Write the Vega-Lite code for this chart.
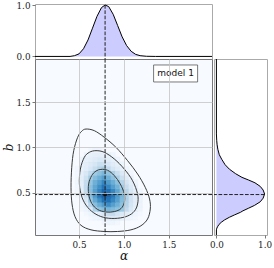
{
  "$schema": "https://vega.github.io/schema/vega-lite/v6.json",
  "padding": {"left": 1, "top": 0, "right": 2, "bottom": 2},
  "background": "white",
  "config": {
    "axis": {"domain": false, "grid": false},
    "legend": {"disable": true}
  },
  "datasets": {
    "best": [{"a": 0.79, "b": 0.48, "peak": 1.0}],
    "topm": [
      {"a": 0.01, "v": 0}, {"a": 0.40, "v": 0}, {"a": 0.45, "v": 0.015}, {"a": 0.50, "v": 0.05},
      {"a": 0.55, "v": 0.15}, {"a": 0.60, "v": 0.32}, {"a": 0.65, "v": 0.55}, {"a": 0.70, "v": 0.78},
      {"a": 0.75, "v": 0.95}, {"a": 0.79, "v": 1.0}, {"a": 0.83, "v": 0.97}, {"a": 0.88, "v": 0.82},
      {"a": 0.93, "v": 0.60}, {"a": 0.98, "v": 0.38}, {"a": 1.03, "v": 0.21}, {"a": 1.08, "v": 0.10},
      {"a": 1.13, "v": 0.04}, {"a": 1.18, "v": 0.015}, {"a": 1.25, "v": 0.003}, {"a": 1.35, "v": 0},
      {"a": 1.98, "v": 0}
    ],
    "rightm": [
      {"b": 0.033, "v": 0}, {"b": 0.09, "v": 0}, {"b": 0.11, "v": 0.01}, {"b": 0.13, "v": 0.03},
      {"b": 0.15, "v": 0.055}, {"b": 0.173, "v": 0.10}, {"b": 0.20, "v": 0.17}, {"b": 0.229, "v": 0.27},
      {"b": 0.256, "v": 0.38}, {"b": 0.284, "v": 0.50}, {"b": 0.30, "v": 0.55}, {"b": 0.33, "v": 0.67},
      {"b": 0.36, "v": 0.79}, {"b": 0.40, "v": 0.91}, {"b": 0.44, "v": 0.97}, {"b": 0.486, "v": 1.0},
      {"b": 0.53, "v": 0.97}, {"b": 0.57, "v": 0.91}, {"b": 0.61, "v": 0.80}, {"b": 0.64, "v": 0.67},
      {"b": 0.67, "v": 0.53}, {"b": 0.71, "v": 0.40}, {"b": 0.76, "v": 0.27}, {"b": 0.81, "v": 0.18},
      {"b": 0.87, "v": 0.11}, {"b": 0.92, "v": 0.06}, {"b": 0.98, "v": 0.03}, {"b": 1.03, "v": 0.015},
      {"b": 1.08, "v": 0.006}, {"b": 1.15, "v": 0}, {"b": 1.978, "v": 0}
    ],
    "contours": [
      {"c": "outer", "i": 0, "a": 0.578, "b": 1.204}, {"c": "outer", "i": 1, "a": 0.670, "b": 1.186},
      {"c": "outer", "i": 2, "a": 0.781, "b": 1.113}, {"c": "outer", "i": 3, "a": 0.911, "b": 1.002},
      {"c": "outer", "i": 4, "a": 1.041, "b": 0.854}, {"c": "outer", "i": 5, "a": 1.152, "b": 0.707},
      {"c": "outer", "i": 6, "a": 1.237, "b": 0.560}, {"c": "outer", "i": 7, "a": 1.285, "b": 0.431},
      {"c": "outer", "i": 8, "a": 1.293, "b": 0.320}, {"c": "outer", "i": 9, "a": 1.263, "b": 0.210},
      {"c": "outer", "i": 10, "a": 1.189, "b": 0.135}, {"c": "outer", "i": 11, "a": 1.078, "b": 0.090},
      {"c": "outer", "i": 12, "a": 0.930, "b": 0.072}, {"c": "outer", "i": 13, "a": 0.781, "b": 0.072},
      {"c": "outer", "i": 14, "a": 0.633, "b": 0.090}, {"c": "outer", "i": 15, "a": 0.522, "b": 0.140},
      {"c": "outer", "i": 16, "a": 0.456, "b": 0.235}, {"c": "outer", "i": 17, "a": 0.422, "b": 0.376},
      {"c": "outer", "i": 18, "a": 0.411, "b": 0.560}, {"c": "outer", "i": 19, "a": 0.419, "b": 0.781},
      {"c": "outer", "i": 20, "a": 0.441, "b": 0.965}, {"c": "outer", "i": 21, "a": 0.485, "b": 1.113},
      {"c": "outer", "i": 22, "a": 0.530, "b": 1.180},
      {"c": "middle", "i": 0, "a": 0.689, "b": 0.965}, {"c": "middle", "i": 1, "a": 0.781, "b": 0.947},
      {"c": "middle", "i": 2, "a": 0.893, "b": 0.873}, {"c": "middle", "i": 3, "a": 1.004, "b": 0.762},
      {"c": "middle", "i": 4, "a": 1.096, "b": 0.633}, {"c": "middle", "i": 5, "a": 1.152, "b": 0.486},
      {"c": "middle", "i": 6, "a": 1.152, "b": 0.376}, {"c": "middle", "i": 7, "a": 1.115, "b": 0.295},
      {"c": "middle", "i": 8, "a": 1.041, "b": 0.243}, {"c": "middle", "i": 9, "a": 0.930, "b": 0.218},
      {"c": "middle", "i": 10, "a": 0.800, "b": 0.222}, {"c": "middle", "i": 11, "a": 0.689, "b": 0.262},
      {"c": "middle", "i": 12, "a": 0.596, "b": 0.339}, {"c": "middle", "i": 13, "a": 0.533, "b": 0.450},
      {"c": "middle", "i": 14, "a": 0.504, "b": 0.597}, {"c": "middle", "i": 15, "a": 0.515, "b": 0.762},
      {"c": "middle", "i": 16, "a": 0.559, "b": 0.892}, {"c": "middle", "i": 17, "a": 0.615, "b": 0.947},
      {"c": "inner", "i": 0, "a": 0.744, "b": 0.758}, {"c": "inner", "i": 1, "a": 0.819, "b": 0.748},
      {"c": "inner", "i": 2, "a": 0.893, "b": 0.689}, {"c": "inner", "i": 3, "a": 0.959, "b": 0.597},
      {"c": "inner", "i": 4, "a": 1.004, "b": 0.486}, {"c": "inner", "i": 5, "a": 1.004, "b": 0.394},
      {"c": "inner", "i": 6, "a": 0.967, "b": 0.325}, {"c": "inner", "i": 7, "a": 0.893, "b": 0.292},
      {"c": "inner", "i": 8, "a": 0.800, "b": 0.287}, {"c": "inner", "i": 9, "a": 0.707, "b": 0.315},
      {"c": "inner", "i": 10, "a": 0.641, "b": 0.383}, {"c": "inner", "i": 11, "a": 0.607, "b": 0.486},
      {"c": "inner", "i": 12, "a": 0.607, "b": 0.597}, {"c": "inner", "i": 13, "a": 0.641, "b": 0.689},
      {"c": "inner", "i": 14, "a": 0.689, "b": 0.740}
    ],
    "heat": [
      {"a": 0.775, "b": 0.175, "d": 0.05}, {"a": 0.825, "b": 0.175, "d": 0.075}, {"a": 0.875, "b": 0.175, "d": 0.075}, {"a": 0.925, "b": 0.175, "d": 0.055},
      {"a": 0.625, "b": 0.225, "d": 0.047}, {"a": 0.675, "b": 0.225, "d": 0.07}, {"a": 0.725, "b": 0.225, "d": 0.10}, {"a": 0.775, "b": 0.225, "d": 0.135}, {"a": 0.825, "b": 0.225, "d": 0.16}, {"a": 0.875, "b": 0.225, "d": 0.19}, {"a": 0.925, "b": 0.225, "d": 0.16}, {"a": 0.975, "b": 0.225, "d": 0.135}, {"a": 1.025, "b": 0.225, "d": 0.097}, {"a": 1.075, "b": 0.225, "d": 0.065}, {"a": 1.125, "b": 0.225, "d": 0.043},
      {"a": 0.575, "b": 0.275, "d": 0.052}, {"a": 0.625, "b": 0.275, "d": 0.087}, {"a": 0.675, "b": 0.275, "d": 0.135}, {"a": 0.725, "b": 0.275, "d": 0.20}, {"a": 0.775, "b": 0.275, "d": 0.28}, {"a": 0.825, "b": 0.275, "d": 0.386}, {"a": 0.875, "b": 0.275, "d": 0.40}, {"a": 0.925, "b": 0.275, "d": 0.32}, {"a": 0.975, "b": 0.275, "d": 0.25}, {"a": 1.025, "b": 0.275, "d": 0.19}, {"a": 1.075, "b": 0.275, "d": 0.14}, {"a": 1.125, "b": 0.275, "d": 0.083}, {"a": 1.175, "b": 0.275, "d": 0.047},
      {"a": 0.525, "b": 0.325, "d": 0.05}, {"a": 0.575, "b": 0.325, "d": 0.10}, {"a": 0.625, "b": 0.325, "d": 0.23}, {"a": 0.675, "b": 0.325, "d": 0.51}, {"a": 0.725, "b": 0.325, "d": 0.63}, {"a": 0.775, "b": 0.325, "d": 0.66}, {"a": 0.825, "b": 0.325, "d": 0.69}, {"a": 0.875, "b": 0.325, "d": 0.67}, {"a": 0.925, "b": 0.325, "d": 0.64}, {"a": 0.975, "b": 0.325, "d": 0.61}, {"a": 1.025, "b": 0.325, "d": 0.42}, {"a": 1.075, "b": 0.325, "d": 0.26}, {"a": 1.125, "b": 0.325, "d": 0.15}, {"a": 1.175, "b": 0.325, "d": 0.076},
      {"a": 0.525, "b": 0.375, "d": 0.07}, {"a": 0.575, "b": 0.375, "d": 0.15}, {"a": 0.625, "b": 0.375, "d": 0.45}, {"a": 0.675, "b": 0.375, "d": 0.65}, {"a": 0.725, "b": 0.375, "d": 0.73}, {"a": 0.775, "b": 0.375, "d": 0.80}, {"a": 0.825, "b": 0.375, "d": 0.855}, {"a": 0.875, "b": 0.375, "d": 0.78}, {"a": 0.925, "b": 0.375, "d": 0.71}, {"a": 0.975, "b": 0.375, "d": 0.64}, {"a": 1.025, "b": 0.375, "d": 0.49}, {"a": 1.075, "b": 0.375, "d": 0.31}, {"a": 1.125, "b": 0.375, "d": 0.18}, {"a": 1.175, "b": 0.375, "d": 0.089},
      {"a": 0.525, "b": 0.425, "d": 0.097}, {"a": 0.575, "b": 0.425, "d": 0.27}, {"a": 0.625, "b": 0.425, "d": 0.61}, {"a": 0.675, "b": 0.425, "d": 0.74}, {"a": 0.725, "b": 0.425, "d": 0.85}, {"a": 0.775, "b": 0.425, "d": 0.94}, {"a": 0.825, "b": 0.425, "d": 0.94}, {"a": 0.875, "b": 0.425, "d": 0.87}, {"a": 0.925, "b": 0.425, "d": 0.78}, {"a": 0.975, "b": 0.425, "d": 0.67}, {"a": 1.025, "b": 0.425, "d": 0.52}, {"a": 1.075, "b": 0.425, "d": 0.33}, {"a": 1.125, "b": 0.425, "d": 0.19}, {"a": 1.175, "b": 0.425, "d": 0.093},
      {"a": 0.475, "b": 0.475, "d": 0.048}, {"a": 0.525, "b": 0.475, "d": 0.13}, {"a": 0.575, "b": 0.475, "d": 0.36}, {"a": 0.625, "b": 0.475, "d": 0.65}, {"a": 0.675, "b": 0.475, "d": 0.81}, {"a": 0.725, "b": 0.475, "d": 0.93}, {"a": 0.775, "b": 0.475, "d": 0.995}, {"a": 0.825, "b": 0.475, "d": 0.98}, {"a": 0.875, "b": 0.475, "d": 0.92}, {"a": 0.925, "b": 0.475, "d": 0.81}, {"a": 0.975, "b": 0.475, "d": 0.69}, {"a": 1.025, "b": 0.475, "d": 0.52}, {"a": 1.075, "b": 0.475, "d": 0.33}, {"a": 1.125, "b": 0.475, "d": 0.19}, {"a": 1.175, "b": 0.475, "d": 0.087},
      {"a": 0.475, "b": 0.525, "d": 0.057}, {"a": 0.525, "b": 0.525, "d": 0.17}, {"a": 0.575, "b": 0.525, "d": 0.41}, {"a": 0.625, "b": 0.525, "d": 0.65}, {"a": 0.675, "b": 0.525, "d": 0.78}, {"a": 0.725, "b": 0.525, "d": 0.89}, {"a": 0.775, "b": 0.525, "d": 0.97}, {"a": 0.825, "b": 0.525, "d": 0.95}, {"a": 0.875, "b": 0.525, "d": 0.87}, {"a": 0.925, "b": 0.525, "d": 0.76}, {"a": 0.975, "b": 0.525, "d": 0.64}, {"a": 1.025, "b": 0.525, "d": 0.47}, {"a": 1.075, "b": 0.525, "d": 0.29}, {"a": 1.125, "b": 0.525, "d": 0.16}, {"a": 1.175, "b": 0.525, "d": 0.066},
      {"a": 0.475, "b": 0.575, "d": 0.065}, {"a": 0.525, "b": 0.575, "d": 0.19}, {"a": 0.575, "b": 0.575, "d": 0.42}, {"a": 0.625, "b": 0.575, "d": 0.65}, {"a": 0.675, "b": 0.575, "d": 0.75}, {"a": 0.725, "b": 0.575, "d": 0.85}, {"a": 0.775, "b": 0.575, "d": 0.93}, {"a": 0.825, "b": 0.575, "d": 0.88}, {"a": 0.875, "b": 0.575, "d": 0.79}, {"a": 0.925, "b": 0.575, "d": 0.70}, {"a": 0.975, "b": 0.575, "d": 0.59}, {"a": 1.025, "b": 0.575, "d": 0.39}, {"a": 1.075, "b": 0.575, "d": 0.24}, {"a": 1.125, "b": 0.575, "d": 0.12},
      {"a": 0.475, "b": 0.625, "d": 0.068}, {"a": 0.525, "b": 0.625, "d": 0.19}, {"a": 0.575, "b": 0.625, "d": 0.40}, {"a": 0.625, "b": 0.625, "d": 0.62}, {"a": 0.675, "b": 0.625, "d": 0.71}, {"a": 0.725, "b": 0.625, "d": 0.79}, {"a": 0.775, "b": 0.625, "d": 0.87}, {"a": 0.825, "b": 0.625, "d": 0.80}, {"a": 0.875, "b": 0.625, "d": 0.72}, {"a": 0.925, "b": 0.625, "d": 0.64}, {"a": 0.975, "b": 0.625, "d": 0.48}, {"a": 1.025, "b": 0.625, "d": 0.31}, {"a": 1.075, "b": 0.625, "d": 0.18}, {"a": 1.125, "b": 0.625, "d": 0.078},
      {"a": 0.475, "b": 0.675, "d": 0.065}, {"a": 0.525, "b": 0.675, "d": 0.18}, {"a": 0.575, "b": 0.675, "d": 0.34}, {"a": 0.625, "b": 0.675, "d": 0.56}, {"a": 0.675, "b": 0.675, "d": 0.66}, {"a": 0.725, "b": 0.675, "d": 0.72}, {"a": 0.775, "b": 0.675, "d": 0.78}, {"a": 0.825, "b": 0.675, "d": 0.71}, {"a": 0.875, "b": 0.675, "d": 0.64}, {"a": 0.925, "b": 0.675, "d": 0.53}, {"a": 0.975, "b": 0.675, "d": 0.36}, {"a": 1.025, "b": 0.675, "d": 0.22}, {"a": 1.075, "b": 0.675, "d": 0.12},
      {"a": 0.475, "b": 0.725, "d": 0.059}, {"a": 0.525, "b": 0.725, "d": 0.16}, {"a": 0.575, "b": 0.725, "d": 0.27}, {"a": 0.625, "b": 0.725, "d": 0.42}, {"a": 0.675, "b": 0.725, "d": 0.59}, {"a": 0.725, "b": 0.725, "d": 0.64}, {"a": 0.775, "b": 0.725, "d": 0.68}, {"a": 0.825, "b": 0.725, "d": 0.63}, {"a": 0.875, "b": 0.725, "d": 0.54}, {"a": 0.925, "b": 0.725, "d": 0.38}, {"a": 0.975, "b": 0.725, "d": 0.24}, {"a": 1.025, "b": 0.725, "d": 0.14}, {"a": 1.075, "b": 0.725, "d": 0.055},
      {"a": 0.475, "b": 0.775, "d": 0.051}, {"a": 0.525, "b": 0.775, "d": 0.14}, {"a": 0.575, "b": 0.775, "d": 0.20}, {"a": 0.625, "b": 0.775, "d": 0.28}, {"a": 0.675, "b": 0.775, "d": 0.38}, {"a": 0.725, "b": 0.775, "d": 0.48}, {"a": 0.775, "b": 0.775, "d": 0.55}, {"a": 0.825, "b": 0.775, "d": 0.41}, {"a": 0.875, "b": 0.775, "d": 0.30}, {"a": 0.925, "b": 0.775, "d": 0.22}, {"a": 0.975, "b": 0.775, "d": 0.15}, {"a": 1.025, "b": 0.775, "d": 0.073},
      {"a": 0.525, "b": 0.825, "d": 0.13}, {"a": 0.575, "b": 0.825, "d": 0.18}, {"a": 0.625, "b": 0.825, "d": 0.23}, {"a": 0.675, "b": 0.825, "d": 0.30}, {"a": 0.725, "b": 0.825, "d": 0.37}, {"a": 0.775, "b": 0.825, "d": 0.36}, {"a": 0.825, "b": 0.825, "d": 0.28}, {"a": 0.875, "b": 0.825, "d": 0.21}, {"a": 0.925, "b": 0.825, "d": 0.155}, {"a": 0.975, "b": 0.825, "d": 0.087},
      {"a": 0.525, "b": 0.875, "d": 0.087}, {"a": 0.575, "b": 0.875, "d": 0.15}, {"a": 0.625, "b": 0.875, "d": 0.18}, {"a": 0.675, "b": 0.875, "d": 0.22}, {"a": 0.725, "b": 0.875, "d": 0.26}, {"a": 0.775, "b": 0.875, "d": 0.24}, {"a": 0.825, "b": 0.875, "d": 0.19}, {"a": 0.875, "b": 0.875, "d": 0.15}, {"a": 0.925, "b": 0.875, "d": 0.09},
      {"a": 0.575, "b": 0.925, "d": 0.11}, {"a": 0.625, "b": 0.925, "d": 0.14}, {"a": 0.675, "b": 0.925, "d": 0.16}, {"a": 0.725, "b": 0.925, "d": 0.17}, {"a": 0.775, "b": 0.925, "d": 0.15}, {"a": 0.825, "b": 0.925, "d": 0.14}, {"a": 0.875, "b": 0.925, "d": 0.077},
      {"a": 0.625, "b": 0.975, "d": 0.052}, {"a": 0.675, "b": 0.975, "d": 0.09}, {"a": 0.725, "b": 0.975, "d": 0.09}, {"a": 0.775, "b": 0.975, "d": 0.048}
    ]
  },
  "spacing": 0,
  "bounds": "flush",
  "vconcat": [
    {
      "width": 177, "height": 55,
      "view": {"stroke": "#aaaaaa", "fill": "white"},
      "layer": [
        {
          "data": {"name": "topm"},
          "mark": {"type": "area", "color": "#ccccff", "opacity": 1, "clip": true, "line": {"color": "black", "strokeWidth": 1}},
          "encoding": {
            "x": {"field": "a", "type": "quantitative", "scale": {"domain": [0.01, 1.98], "nice": false, "zero": false}, "axis": null},
            "y": {"field": "v", "type": "quantitative", "stack": null, "scale": {"domain": [-0.05, 1.02], "nice": false, "zero": false},
                  "axis": {"values": [0, 0.5, 1], "format": ".1f", "title": null,
                           "labelFont": "DejaVu Serif", "labelFontSize": 8.8, "labelColor": "#222",
                           "tickColor": "#555", "tickSize": 3, "tickWidth": 0.8, "labelPadding": 2, "labelFlush": false}}
          }
        },
        {
          "data": {"name": "best"},
          "mark": {"type": "rule", "strokeDash": [3.7, 1.6], "color": "#222", "strokeWidth": 1},
          "encoding": {
            "x": {"field": "a", "type": "quantitative"},
            "y": {"field": "peak", "type": "quantitative"},
            "y2": {"datum": -0.05}
          }
        }
      ]
    },
    {
      "spacing": 2,
      "bounds": "flush",
      "hconcat": [
        {
          "width": 177, "height": 176,
          "view": {"stroke": "#777777", "fill": "#f7fbff"},
          "layer": [
            {
              "data": {"name": "heat"},
              "mark": {"type": "rect", "strokeWidth": 0.6},
              "encoding": {
                "x": {"field": "a", "type": "quantitative", "bin": {"step": 0.05, "extent": [0, 2]},
                      "scale": {"domain": [0.01, 1.98], "nice": false, "zero": false},
                      "axis": {"values": [0.5, 1, 1.5], "format": ".1f", "title": "α", "grid": true, "gridColor": "#c4c4c4", "gridWidth": 0.8,
                               "labelFont": "DejaVu Serif", "labelFontSize": 8.8, "labelColor": "#222",
                               "tickColor": "#555", "tickSize": 3, "tickWidth": 0.8, "labelPadding": 2, "labelFlush": false,
                               "titleFont": "DejaVu Serif", "titleFontStyle": "italic", "titleFontWeight": "normal", "titleFontSize": 12, "titleColor": "#111", "titlePadding": 2}},
                "y": {"field": "b", "type": "quantitative", "bin": {"step": 0.05, "extent": [0, 2]},
                      "scale": {"domain": [0.033, 1.978], "nice": false, "zero": false},
                      "axis": {"values": [0.5, 1, 1.5], "format": ".1f", "title": "b", "grid": true, "gridColor": "#c4c4c4", "gridWidth": 0.8,
                               "labelFont": "DejaVu Serif", "labelFontSize": 8.8, "labelColor": "#222",
                               "tickColor": "#555", "tickSize": 3, "tickWidth": 0.8, "labelPadding": 2, "labelFlush": false,
                               "titleFont": "DejaVu Serif", "titleFontStyle": "italic", "titleFontWeight": "normal", "titleFontSize": 12, "titleColor": "#111", "titlePadding": 1}},
                "fill": {"field": "d", "type": "quantitative",
                         "scale": {"domain": [0, 0.15, 0.3, 0.45, 0.6, 0.72, 0.84, 0.94, 1.0],
                                   "range": ["#f7fbff", "#e6f0fa", "#d6e6f4", "#bcd7eb", "#9ecae1", "#6baed6", "#4292c6", "#2171b5", "#175ea8"]},
                         "legend": null},
                "stroke": {"field": "d", "type": "quantitative",
                         "scale": {"domain": [0, 0.15, 0.3, 0.45, 0.6, 0.72, 0.84, 0.94, 1.0],
                                   "range": ["#f7fbff", "#e6f0fa", "#d6e6f4", "#bcd7eb", "#9ecae1", "#6baed6", "#4292c6", "#2171b5", "#175ea8"]},
                         "legend": null}
              }
            },
            {
              "data": {"name": "contours"},
              "mark": {"type": "line", "interpolate": "cardinal-closed", "color": "#3a3a3a", "strokeWidth": 1},
              "encoding": {
                "x": {"field": "a", "type": "quantitative"},
                "y": {"field": "b", "type": "quantitative"},
                "detail": {"field": "c"},
                "order": {"field": "i", "type": "quantitative"}
              }
            },
            {
              "data": {"name": "best"},
              "mark": {"type": "rule", "strokeDash": [3.7, 1.6], "color": "#222", "strokeWidth": 1},
              "encoding": {"x": {"field": "a", "type": "quantitative"}}
            },
            {
              "data": {"name": "best"},
              "mark": {"type": "rule", "strokeDash": [3.7, 1.6], "color": "#222", "strokeWidth": 1},
              "encoding": {"y": {"field": "b", "type": "quantitative"}}
            },
            {
              "data": {"name": "best"},
              "mark": {"type": "point", "filled": true, "color": "#111", "size": 16, "opacity": 1},
              "encoding": {"x": {"field": "a", "type": "quantitative"}, "y": {"field": "b", "type": "quantitative"}}
            },
            {
              "data": {"values": [{"label": "model 1"}]},
              "mark": {"type": "rect", "fill": "white", "stroke": "#555", "strokeWidth": 0.8},
              "encoding": {
                "x": {"datum": 1.33}, "x2": {"datum": 1.82},
                "y": {"datum": 1.724}, "y2": {"datum": 1.912}
              }
            },
            {
              "data": {"values": [{"label": "model 1"}]},
              "mark": {"type": "text", "font": "DejaVu Sans", "fontSize": 9, "color": "#111", "align": "center", "baseline": "middle"},
              "encoding": {
                "x": {"datum": 1.575}, "y": {"datum": 1.818},
                "text": {"field": "label"}
              }
            }
          ]
        },
        {
          "width": 53, "height": 176,
          "view": {"stroke": "#aaaaaa", "fill": "white"},
          "layer": [
            {
              "data": {"name": "rightm"},
              "mark": {"type": "line", "stroke": "black", "fill": "#ccccff", "strokeWidth": 1, "clip": true},
              "encoding": {
                "x": {"field": "v", "type": "quantitative", "scale": {"domain": [-0.05, 1.05], "nice": false, "zero": false},
                      "axis": {"values": [0, 0.5, 1], "format": ".1f", "title": null,
                               "labelFont": "DejaVu Serif", "labelFontSize": 8.8, "labelColor": "#222",
                               "tickColor": "#555", "tickSize": 3, "tickWidth": 0.8, "labelPadding": 2, "labelFlush": false}},
                "y": {"field": "b", "type": "quantitative", "scale": {"domain": [0.033, 1.978], "nice": false, "zero": false}, "axis": null},
                "order": {"field": "b", "type": "quantitative"}
              }
            },
            {
              "data": {"name": "best"},
              "mark": {"type": "rule", "strokeDash": [3.7, 1.6], "color": "#222", "strokeWidth": 1},
              "encoding": {
                "y": {"field": "b", "type": "quantitative"},
                "x": {"field": "peak", "type": "quantitative"},
                "x2": {"datum": -0.05}
              }
            }
          ]
        }
      ]
    }
  ]
}
